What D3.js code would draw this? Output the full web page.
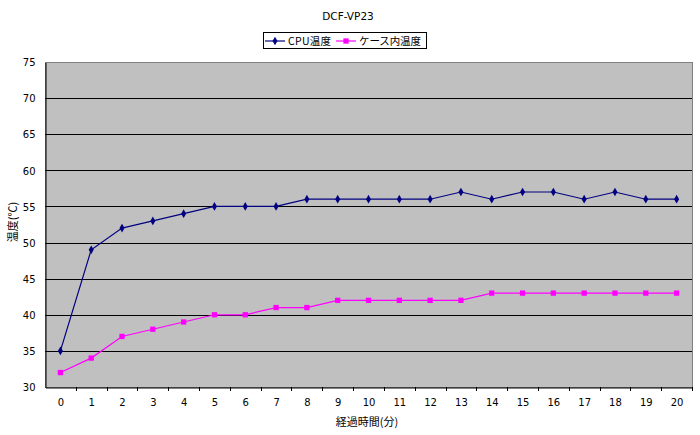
<!DOCTYPE html>
<html>
<head>
<meta charset="utf-8">
<script src="https://cdn.jsdelivr.net/npm/d3@7"></script>
<style>
  body { margin: 0; background: #fff; }
  text { font-family: "DejaVu Sans", "Noto Sans CJK JP", sans-serif; fill: #000; }
  .jp { font-family: "Noto Sans CJK JP", sans-serif; }
</style>
</head>
<body>
<svg id="chart" width="700" height="435"></svg>
<script>
// ── Data ────────────────────────────────────────────
const minutes  = d3.range(0, 21).map(String);
const cpuTemp  = [35, 49, 52, 53, 54, 55, 55, 55, 56, 56, 56, 56, 56, 57, 56, 57, 57, 56, 57, 56, 56];
const caseTemp = [32, 34, 37, 38, 39, 40, 40, 41, 41, 42, 42, 42, 42, 42, 43, 43, 43, 43, 43, 43, 43];
const yTicks   = [30, 35, 40, 45, 50, 55, 60, 65, 70, 75];
const series   = [
  { name: 'CPU温度',      values: cpuTemp,  color: '#000080', marker: 'diamond' },
  { name: 'ケース内温度', values: caseTemp, color: '#ff00ff', marker: 'square' }
];

const svg = d3.select('#chart');
const M = { left: 45, right: 8, top: 62, bottom: 48 };
const W = 700, H = 435;

const x = d3.scaleBand().domain(minutes).range([M.left, W - M.right]).padding(0);
const y = d3.scaleLinear().domain([30, 75]).range([H - M.bottom, M.top]);
const cx = d => x(d) + x.bandwidth() / 2;

const markerOf = s => s.marker === 'diamond'
  ? d3.symbol().type(d3.symbolDiamond).size(22)
  : d3.symbol().type(d3.symbolSquare).size(28);

// Plot area
svg.append('rect')
  .attr('x', M.left).attr('y', M.top)
  .attr('width', W - M.right - M.left).attr('height', y(30) - M.top)
  .attr('fill', '#c0c0c0')
  .attr('stroke', '#808080').attr('stroke-width', 1)
  .attr('shape-rendering', 'crispEdges');

// Gridlines
svg.append('g')
  .selectAll('line')
  .data(yTicks.slice(1, -1))
  .join('line')
  .attr('x1', M.left).attr('x2', W - M.right)
  .attr('y1', d => Math.round(y(d)) + 0.5).attr('y2', d => Math.round(y(d)) + 0.5)
  .attr('stroke', '#000').attr('stroke-width', 1);

// Y axis
const yAxis = svg.append('g')
  .attr('transform', `translate(${M.left + 0.5},0.5)`)
  .call(d3.axisLeft(y).tickValues(yTicks).tickSize(0).tickPadding(10));
yAxis.select('.domain').attr('stroke', '#000');
yAxis.selectAll('text').attr('font-size', 10).attr('font-family', 'DejaVu Sans');

// X axis
const xAxis = svg.append('g')
  .attr('transform', `translate(0.5,${Math.round(y(30)) + 0.5})`)
  .call(d3.axisBottom(x).tickSize(0).tickPadding(11));
xAxis.select('.domain').attr('stroke', '#000');
xAxis.selectAll('text').attr('font-size', 10).attr('font-family', 'DejaVu Sans');
// tick marks sit between categories
svg.append('g')
  .selectAll('line')
  .data(minutes)
  .join('line')
  .attr('x1', d => Math.round(x(d) + x.bandwidth()) + 0.5)
  .attr('x2', d => Math.round(x(d) + x.bandwidth()) + 0.5)
  .attr('y1', Math.round(y(30))).attr('y2', Math.round(y(30)) + 4)
  .attr('stroke', '#000');

// Lines & markers
const line = d3.line().x((d, i) => cx(minutes[i])).y(d => y(d));
for (const s of series) {
  svg.append('path')
    .attr('d', line(s.values))
    .attr('fill', 'none')
    .attr('stroke', s.color)
    .attr('stroke-width', 1.2);
  svg.append('g')
    .selectAll('path')
    .data(s.values)
    .join('path')
    .attr('transform', (d, i) => `translate(${cx(minutes[i])},${y(d)})`)
    .attr('d', markerOf(s))
    .attr('fill', s.color);
}

// Title
svg.append('text')
  .attr('x', 348).attr('y', 20)
  .attr('text-anchor', 'middle')
  .attr('font-size', 10.5)
  .text('DCF-VP23');

// Legend
const lg = svg.append('g').attr('transform', 'translate(263,32)');
lg.append('rect')
  .attr('x', 0.5).attr('y', 0.5).attr('width', 163).attr('height', 16)
  .attr('fill', '#fff').attr('stroke', '#000');
const legendPos = [2, 73];
const legendW   = [43, 62];
series.forEach((s, i) => {
  const g = lg.append('g').attr('transform', `translate(${legendPos[i]},9)`);
  g.append('line').attr('x1', 0).attr('x2', 20).attr('y1', 0).attr('y2', 0)
    .attr('stroke', s.color).attr('stroke-width', 1.2);
  g.append('path')
    .attr('transform', 'translate(10,0)')
    .attr('d', markerOf(s))
    .attr('fill', s.color);
  g.append('text')
    .attr('class', 'jp')
    .attr('x', 23).attr('y', 4)
    .attr('font-size', 10.5)
    .attr('textLength', legendW[i])
    .attr('lengthAdjust', 'spacing')
    .text(s.name);
});

// Axis titles
svg.append('text')
  .attr('class', 'jp')
  .attr('x', 367).attr('y', 426)
  .attr('text-anchor', 'middle')
  .attr('font-size', 11)
  .text('経過時間(分)');

svg.append('text')
  .attr('class', 'jp')
  .attr('transform', 'translate(17,222) rotate(-90)')
  .attr('text-anchor', 'middle')
  .attr('font-size', 11)
  .text('温度(℃)');
</script>
</body>
</html>
